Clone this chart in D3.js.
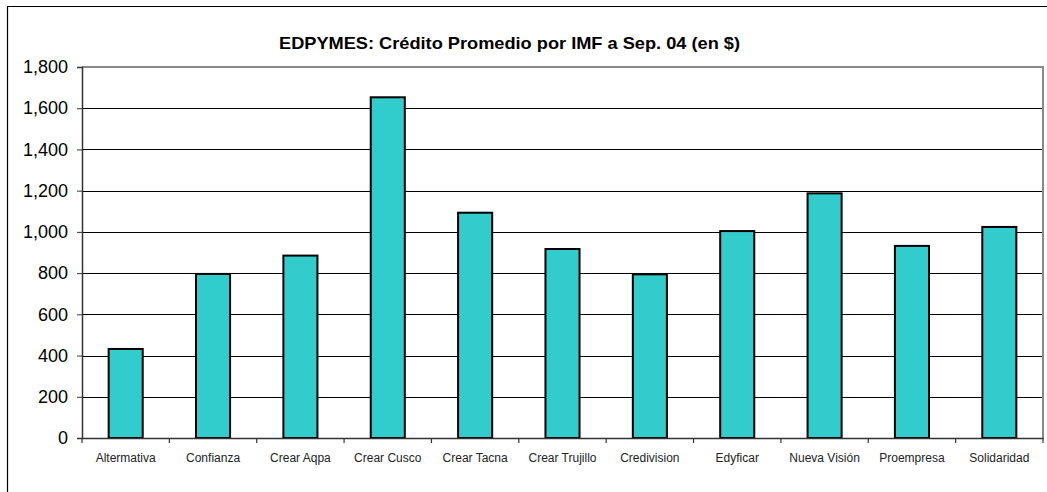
<!DOCTYPE html>
<html>
<head>
<meta charset="utf-8">
<script src="https://cdn.jsdelivr.net/npm/d3@7"></script>
<style>
  body { margin: 0; background: #fff; }
  text { font-family: Arial, "Liberation Sans", sans-serif; }
</style>
</head>
<body>
<svg id="chart"></svg>
<script>
// data
var categories = ["Altermativa", "Confianza", "Crear Aqpa", "Crear Cusco", "Crear Tacna",
    "Crear Trujillo", "Credivision", "Edyficar", "Nueva Visión", "Proempresa", "Solidaridad"]
var values = [432, 796, 885, 1653, 1093, 917, 794, 1004, 1187, 932, 1024]
var yTicks = [0, 200, 400, 600, 800, 1000, 1200, 1400, 1600, 1800]
var title = "EDPYMES: Crédito Promedio por IMF a Sep. 04 (en $)"

var initGraph = function(target)
{
    var screen = {width:1047, height:492}
    var margins = {top:67, bottom:54, left:82, right:4}
    var graph = {
        width:screen.width-margins.left-margins.right,
        height:screen.height-margins.top-margins.bottom
    }

    var svg = d3.select(target)
        .attr("width", screen.width)
        .attr("height", screen.height)

    // outer chart frame (cut off at right and bottom)
    svg.append("path")
        .attr("d", "M7.5," + screen.height + " V6.5 H" + screen.width)
        .attr("fill", "none")
        .attr("stroke", "#000")
        .attr("stroke-width", 1.2)

    // title is drawn a bit wider than the font gives
    svg.append("text")
        .attr("x", 279)
        .attr("y", 49)
        .attr("font-size", "17px")
        .attr("font-weight", "bold")
        .attr("textLength", 461)
        .attr("lengthAdjust", "spacingAndGlyphs")
        .text(title)

    var g = svg.append("g")
        .attr("transform", "translate(" + margins.left + "," + margins.top + ")")

    var pad = 0.61
    var xScale = d3.scaleBand()
        .domain(categories)
        .range([0, graph.width])
        .paddingInner(pad)
        .paddingOuter(pad/2)

    var yScale = d3.scaleLinear()
        .domain([0, 1800])
        .range([graph.height, 0])

    // gridlines
    g.append("g")
        .attr("class", "grid")
        .call(d3.axisLeft(yScale).tickValues(yTicks).tickSize(-graph.width).tickFormat(""))
        .call(function(s) { s.select(".domain").remove() })
        .selectAll("line")
        .attr("stroke", "#000")
        .attr("stroke-width", 1)
        .attr("shape-rendering", "crispEdges")

    // plot area border, top and right
    g.append("path")
        .attr("d", "M0,0 H" + graph.width + " V" + graph.height)
        .attr("fill", "none")
        .attr("stroke", "#888")
        .attr("stroke-width", 2)

    // bars
    g.selectAll("rect.bar")
        .data(values)
        .enter()
        .append("rect")
        .classed("bar", true)
        .attr("x", function(d, i) { return xScale(categories[i]) })
        .attr("y", function(d) { return yScale(d) })
        .attr("width", xScale.bandwidth())
        .attr("height", function(d) { return graph.height - yScale(d) })
        .attr("fill", "#33CCCC")
        .attr("stroke", "#000")
        .attr("stroke-width", 2)

    // y axis
    var yAxis = g.append("g")
        .call(d3.axisLeft(yScale).tickValues(yTicks).tickSize(5).tickPadding(9)
            .tickFormat(d3.format(",")))
    yAxis.select(".domain").attr("stroke", "#333").attr("stroke-width", 1.5)
    yAxis.selectAll("line").attr("stroke", "#333")
    yAxis.selectAll("text")
        .attr("font-size", "18px")
        .attr("fill", "#000")
        .attr("font-family", "Arial, 'Liberation Sans', sans-serif")

    // x axis
    var xAxis = g.append("g")
        .attr("transform", "translate(0," + graph.height + ")")
        .call(d3.axisBottom(xScale).tickSize(0).tickPadding(15))
    xAxis.select(".domain").attr("stroke", "#333").attr("stroke-width", 1.5)
    xAxis.selectAll("text")
        .attr("font-size", "12px")
        .attr("fill", "#222")
        .attr("font-family", "Arial, 'Liberation Sans', sans-serif")

    // tick marks between categories
    var bounds = d3.range(categories.length + 1).map(function(i) { return i * xScale.step() })
    xAxis.selectAll("line.sep")
        .data(bounds)
        .enter()
        .append("line")
        .classed("sep", true)
        .attr("x1", function(d) { return d })
        .attr("x2", function(d) { return d })
        .attr("y1", 0)
        .attr("y2", 5)
        .attr("stroke", "#333")
        .attr("stroke-width", 1.2)
}

initGraph("#chart")
</script>
</body>
</html>
